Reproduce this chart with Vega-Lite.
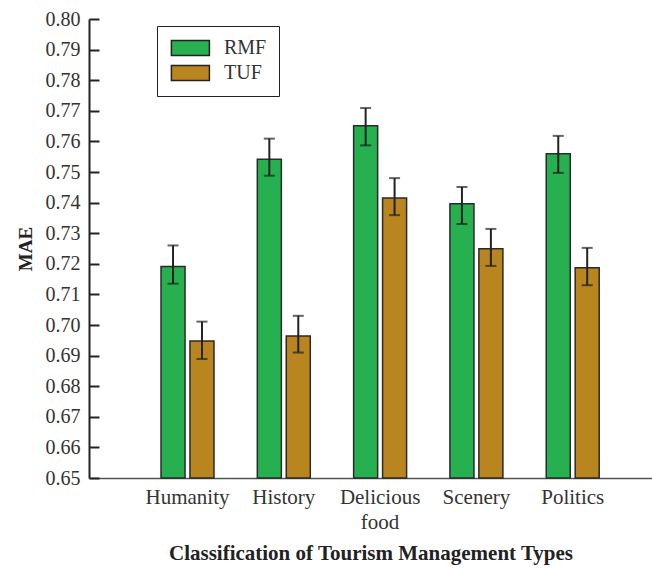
{
  "$schema": "https://vega.github.io/schema/vega-lite/v6.json",
  "width": 563,
  "height": 459,
  "autosize": {"type": "none"},
  "padding": {"left": 89, "top": 19, "right": 0, "bottom": 90},
  "background": "white",
  "config": {
    "view": {"stroke": null},
    "font": "Liberation Serif"
  },
  "data": {
    "values": [
      {"type": "Humanity", "method": "RMF", "mae": 0.7191, "lo": 0.7135, "hi": 0.7260},
      {"type": "Humanity", "method": "TUF", "mae": 0.6948, "lo": 0.6889, "hi": 0.7011},
      {"type": "History", "method": "RMF", "mae": 0.7542, "lo": 0.7488, "hi": 0.7609},
      {"type": "History", "method": "TUF", "mae": 0.6964, "lo": 0.6910, "hi": 0.7030},
      {"type": "Delicious food", "method": "RMF", "mae": 0.7651, "lo": 0.7587, "hi": 0.7709},
      {"type": "Delicious food", "method": "TUF", "mae": 0.7415, "lo": 0.7359, "hi": 0.7480},
      {"type": "Scenery", "method": "RMF", "mae": 0.7396, "lo": 0.7330, "hi": 0.7451},
      {"type": "Scenery", "method": "TUF", "mae": 0.7249, "lo": 0.7193, "hi": 0.7314},
      {"type": "Politics", "method": "RMF", "mae": 0.7560, "lo": 0.7497, "hi": 0.7618},
      {"type": "Politics", "method": "TUF", "mae": 0.7187, "lo": 0.7130, "hi": 0.7252}
    ]
  },
  "resolve": {"axis": {"y": "independent"}},
  "encoding": {
    "x": {
      "field": "type",
      "type": "nominal",
      "sort": ["Humanity", "History", "Delicious food", "Scenery", "Politics"],
      "scale": {"paddingInner": 0.45, "paddingOuter": 0.648, "align": 0.577},
      "axis": {
        "title": "Classification of Tourism Management Types",
        "titleFont": "Liberation Serif",
        "titleFontWeight": "bold",
        "titleFontSize": 21,
        "titleColor": "#222",
        "titlePadding": 10,
        "labelFontSize": 21,
        "labelColor": "#333",
        "labelAngle": 0,
        "labelPadding": 8,
        "labelLineHeight": 25,
        "labelOverlap": false,
        "labelExpr": "datum.label == 'Delicious food' ? ['Delicious', 'food'] : datum.label",
        "ticks": false,
        "domainColor": "#555",
        "domainWidth": 1.5
      }
    },
    "xOffset": {
      "field": "method",
      "type": "nominal",
      "sort": ["RMF", "TUF"],
      "scale": {"paddingInner": 0.17, "paddingOuter": 0}
    }
  },
  "layer": [
    {
      "mark": {"type": "bar", "stroke": "#2a2a2a", "strokeWidth": 1.5},
      "encoding": {
        "y": {
          "field": "mae",
          "type": "quantitative",
          "title": "MAE",
          "scale": {"domain": [0.65, 0.8], "zero": false, "nice": false},
          "axis": {
            "orient": "left",
            "values": [0.65, 0.66, 0.67, 0.68, 0.69, 0.70, 0.71, 0.72, 0.73, 0.74, 0.75, 0.76, 0.77, 0.78, 0.79, 0.80],
            "format": ".2f",
            "grid": false,
            "labelOverlap": false,
            "ticks": false,
            "domainColor": "#222",
            "domainWidth": 2,
            "labelFontSize": 20,
            "labelColor": "#333",
            "labelPadding": 9,
            "titleFontSize": 19,
            "titleFontWeight": "bold",
            "titleColor": "#222",
            "titlePadding": 10
          }
        },
        "y2": {"datum": 0.65},
        "fill": {
          "field": "method",
          "type": "nominal",
          "scale": {"domain": ["RMF", "TUF"], "range": ["#27b04f", "#b8851f"]},
          "legend": {
            "orient": "none",
            "legendX": 68,
            "legendY": 7,
            "title": null,
            "strokeColor": "#222",
            "fillColor": "white",
            "padding": 12,
            "symbolType": "M-1,-1H4V1H-1Z",
            "symbolSize": 231,
            "symbolStrokeColor": "#222",
            "symbolStrokeWidth": 1.5,
            "labelFontSize": 20,
            "labelColor": "#333",
            "labelOffset": 35,
            "labelExpr": "datum.label + '\u00a0\u00a0'",
            "rowPadding": 3
          }
        }
      }
    },
    {
      "mark": {"type": "rule", "strokeWidth": 2, "color": "#222"},
      "encoding": {
        "y": {
          "field": "lo",
          "type": "quantitative",
          "axis": {
            "orient": "left",
            "offset": -10,
            "values": [0.65, 0.66, 0.67, 0.68, 0.69, 0.70, 0.71, 0.72, 0.73, 0.74, 0.75, 0.76, 0.77, 0.78, 0.79, 0.80],
            "title": null,
            "labels": false,
            "domain": false,
            "grid": false,
            "tickSize": 10,
            "tickWidth": 2,
            "tickColor": "#222"
          }
        },
        "y2": {"field": "hi"}
      }
    },
    {
      "mark": {"type": "tick", "thickness": 2, "size": 11, "color": "#222"},
      "encoding": {"y": {"field": "lo", "type": "quantitative", "axis": null}}
    },
    {
      "mark": {"type": "tick", "thickness": 2, "size": 11, "color": "#222"},
      "encoding": {"y": {"field": "hi", "type": "quantitative", "axis": null}}
    }
  ]
}
